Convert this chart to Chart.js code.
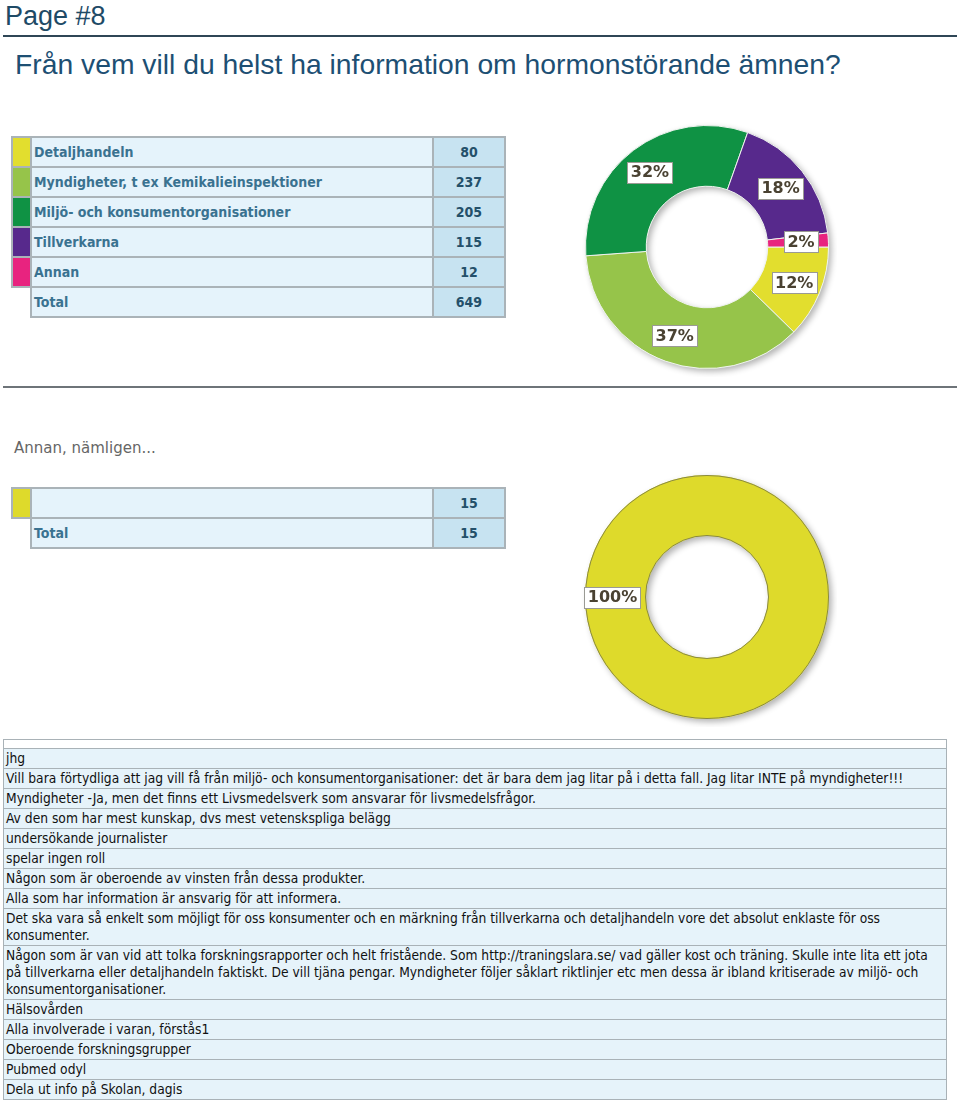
<!DOCTYPE html>
<html>
<head>
<meta charset="utf-8">
<script src="https://cdn.jsdelivr.net/npm/chart.js@4"></script>
<style>
  body { margin: 0; background: #fff; width: 960px; height: 1103px; position: relative; overflow: hidden; }
  .abs { position: absolute; }
  #page { left: 5px; top: 1px; font: 27px "Liberation Sans", Arial, sans-serif; color: #1e4a66; }
  #rule1 { left: 3px; top: 35px; width: 954px; height: 2px; background: #2f4656; }
  #title { left: 15px; top: 48px; font: 28.3px "Liberation Sans", Arial, sans-serif; color: #1d4f73; }
  #rule2 { left: 3px; top: 386px; width: 954px; height: 2px; background: #6e7479; }
  #sub { left: 14px; top: 439px; font: 15px "DejaVu Sans", Verdana, sans-serif; color: #666; }
  table.sum { border-collapse: collapse; table-layout: fixed; font-family: "DejaVu Sans Condensed", "DejaVu Sans", sans-serif; font-size: 14px; }
  table.sum td { border: 2px solid #aab3b8; height: 28px; padding: 0 2px; }
  table.sum td.sw { width: 17px; padding: 0; }
  table.sum td.sw.none { border: none; border-right: 2px solid #aab3b8; background: #fff; }
  table.sum td.lab { width: 396px; background: #e5f3fb; color: #3a7290; font-weight: bold; }
  table.sum td.val { width: 66px; background: #c7e3f1; color: #24506a; font-weight: bold; text-align: center; }
  #list { left: 3px; top: 739px; width: 944px; border-collapse: collapse; font: 13.7px/17px "DejaVu Sans Condensed", "DejaVu Sans", sans-serif; color: #111; }
  #list td { border: 1px solid #a9b2b7; background: #e6f3fa; padding: 1px 2px 1px 2px; }
  #list tr.blank td { background: #fff; height: 8px; padding: 0; }
</style>
</head>
<body>
<div id="page" class="abs">Page #8</div>
<div id="rule1" class="abs"></div>
<div id="title" class="abs">Från vem vill du helst ha information om hormonstörande ämnen?</div>

<table id="sum1" class="abs sum" style="left:11px; top:136px;"></table>
<canvas id="donut1" class="abs" width="260" height="260" style="left:577px; top:117px;"></canvas>

<div id="rule2" class="abs"></div>
<div id="sub" class="abs">Annan, nämligen...</div>

<table id="sum2" class="abs sum" style="left:11px; top:487px;"></table>
<canvas id="donut2" class="abs" width="260" height="260" style="left:577px; top:467px;"></canvas>

<table id="list" class="abs"></table>

<script>
// Question 1
const categories = ['Detaljhandeln', 'Myndigheter, t ex Kemikalieinspektioner', 'Miljö- och konsumentorganisationer', 'Tillverkarna', 'Annan'];
const counts = [80, 237, 205, 115, 12];
const colors = ['#e2de2e', '#96c44a', '#0f9244', '#57298c', '#e8237f'];

// Question 2 (Annan, nämligen...)
const otherCategories = [''];
const otherCounts = [15];
const otherColors = ['#deda2b'];

const otherAnswers = [
  'jhg',
  'Vill bara förtydliga att jag vill få från miljö- och konsumentorganisationer: det är bara dem jag litar på i detta fall. Jag litar INTE på myndigheter!!!',
  'Myndigheter -Ja, men det finns ett Livsmedelsverk som ansvarar för livsmedelsfrågor.',
  'Av den som har mest kunskap, dvs mest vetenskspliga belägg',
  'undersökande journalister',
  'spelar ingen roll',
  'Någon som är oberoende av vinsten från dessa produkter.',
  'Alla som har information är ansvarig för att informera.',
  'Det ska vara så enkelt som möjligt för oss konsumenter och en märkning från tillverkarna och detaljhandeln vore det absolut enklaste för oss konsumenter.',
  'Någon som är van vid att tolka forskningsrapporter och helt fristående. Som http://traningslara.se/ vad gäller kost och träning.  Skulle inte lita ett jota på tillverkarna eller detaljhandeln faktiskt. De vill tjäna pengar. Myndigheter följer såklart riktlinjer etc men dessa är ibland kritiserade av miljö- och konsumentorganisationer.',
  'Hälsovården',
  'Alla involverade i varan, förstås1',
  'Oberoende forskningsgrupper',
  'Pubmed odyl',
  'Dela ut info på Skolan, dagis'
];

function buildSummary(id, labels, values, cols) {
  const table = document.getElementById(id);
  let html = '';
  labels.forEach((l, i) => {
    html += '<tr><td class="sw" style="background:' + cols[i] + '"></td><td class="lab">' + l + '</td><td class="val">' + values[i] + '</td></tr>';
  });
  const total = values.reduce((a, b) => a + b, 0);
  html += '<tr><td class="sw none"></td><td class="lab">Total</td><td class="val">' + total + '</td></tr>';
  table.innerHTML = html;
}
buildSummary('sum1', categories, counts, colors);
buildSummary('sum2', otherCategories, otherCounts, otherColors);

const list = document.getElementById('list');
list.innerHTML = '<tr class="blank"><td></td></tr>' + otherAnswers.map(a => '<tr><td>' + a + '</td></tr>').join('');

// soft drop shadow under the ring, optional thin outline on top
const ringShadow = {
  id: 'ringShadow',
  beforeDatasetsDraw(chart) {
    const arc = chart.getDatasetMeta(0).data[0];
    if (!arc) return;
    const { x, y, innerRadius, outerRadius } = arc.getProps(['x', 'y', 'innerRadius', 'outerRadius'], true);
    const ctx = chart.ctx;
    ctx.save();
    ctx.shadowColor = 'rgba(0,0,0,0.30)';
    ctx.shadowBlur = 6;
    ctx.shadowOffsetX = 3;
    ctx.shadowOffsetY = 3;
    ctx.fillStyle = '#fff';
    ctx.beginPath();
    ctx.arc(x, y, outerRadius, 0, Math.PI * 2);
    ctx.arc(x, y, innerRadius, 0, Math.PI * 2, true);
    ctx.fill();
    ctx.restore();
  },
  afterDatasetsDraw(chart, args, opts) {
    if (!opts.outline) return;
    const arc = chart.getDatasetMeta(0).data[0];
    const { x, y, innerRadius, outerRadius } = arc.getProps(['x', 'y', 'innerRadius', 'outerRadius'], true);
    const ctx = chart.ctx;
    ctx.save();
    ctx.strokeStyle = opts.outline;
    ctx.lineWidth = 1;
    ctx.beginPath();
    ctx.arc(x, y, outerRadius - 0.5, 0, Math.PI * 2);
    ctx.stroke();
    ctx.beginPath();
    ctx.arc(x, y, innerRadius + 0.5, 0, Math.PI * 2);
    ctx.stroke();
    ctx.restore();
  }
};

// percentage boxes on each slice
const pctLabels = {
  id: 'pctLabels',
  afterDatasetsDraw(chart) {
    const ctx = chart.ctx;
    const data = chart.data.datasets[0].data;
    const total = data.reduce((a, b) => a + b, 0);
    chart.getDatasetMeta(0).data.forEach((arc, i) => {
      const p = arc.getProps(['x', 'y', 'startAngle', 'endAngle', 'innerRadius', 'outerRadius'], true);
      const mid = (p.startAngle + p.endAngle) / 2;
      const r = (p.innerRadius + p.outerRadius) / 2 + 3;
      const cx = p.x + Math.cos(mid) * r;
      const cy = p.y + Math.sin(mid) * r;
      const text = Math.round(data[i] / total * 100) + '%';
      ctx.save();
      ctx.font = 'bold 16px "DejaVu Sans", Verdana, sans-serif';
      const w = ctx.measureText(text).width + 7;
      const h = 21;
      ctx.fillStyle = '#fff';
      ctx.fillRect(Math.round(cx - w / 2) + 0.5, Math.round(cy - h / 2) + 0.5, Math.round(w), h);
      ctx.strokeStyle = '#9a9a94';
      ctx.lineWidth = 1;
      ctx.strokeRect(Math.round(cx - w / 2) + 0.5, Math.round(cy - h / 2) + 0.5, Math.round(w), h);
      ctx.fillStyle = '#4a4232';
      ctx.textAlign = 'center';
      ctx.textBaseline = 'middle';
      ctx.fillText(text, cx, cy + 1);
      ctx.restore();
    });
  }
};

function makeDonut(id, labels, values, cols, border, borderWidth, outline) {
  return new Chart(document.getElementById(id), {
    type: 'doughnut',
    data: {
      labels: labels,
      datasets: [{
        data: values,
        backgroundColor: cols,
        borderColor: border,
        borderWidth: borderWidth
      }]
    },
    options: {
      responsive: false,
      animation: false,
      rotation: 90,
      cutout: '50%',
      layout: { padding: 8 },
      plugins: {
        legend: { display: false },
        tooltip: { enabled: false },
        ringShadow: { outline: outline }
      }
    },
    plugins: [ringShadow, pctLabels]
  });
}

makeDonut('donut1', categories, counts, colors, '#eef3ee', 1, null);
makeDonut('donut2', otherCategories, otherCounts, otherColors, '#deda2b', 0, '#8a8a44');
</script>
</body>
</html>
